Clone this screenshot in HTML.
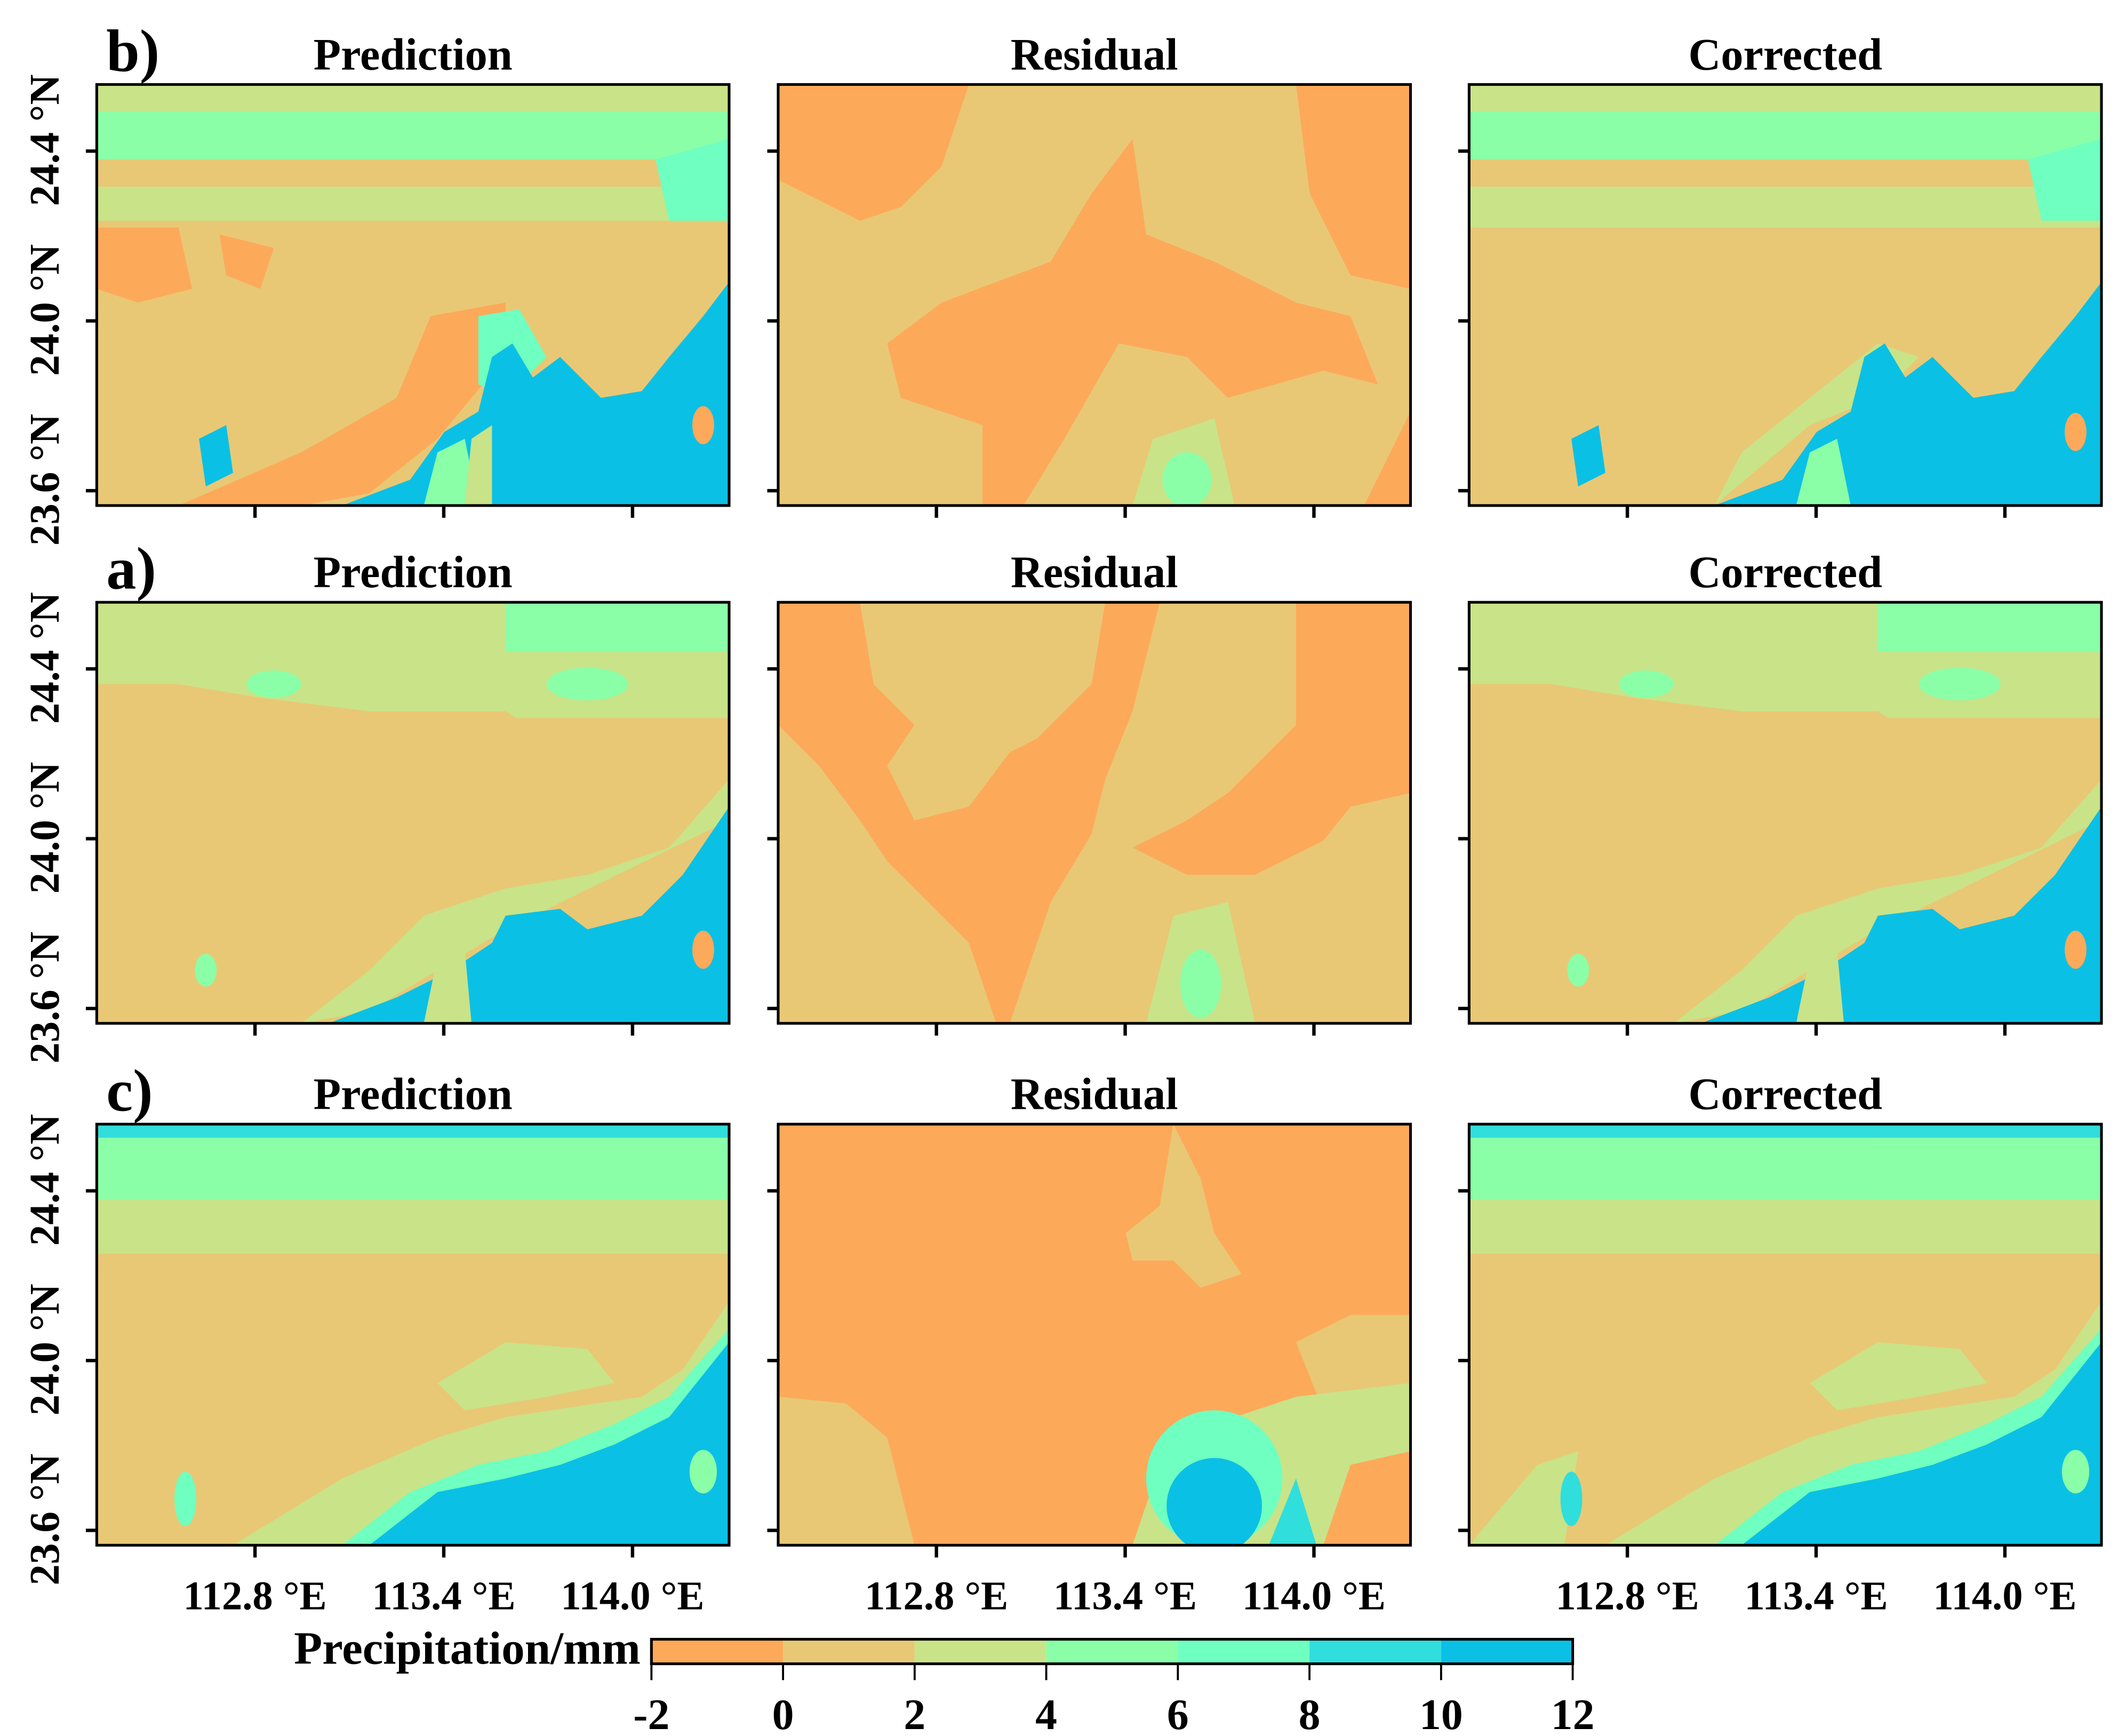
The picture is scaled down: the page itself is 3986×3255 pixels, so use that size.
<!DOCTYPE html>
<html><head><meta charset="utf-8"><style>
html,body{margin:0;padding:0;background:#fff;}
svg{display:block;}
text{font-family:"Liberation Serif",serif;font-weight:bold;fill:#000;}
</style></head><body>
<svg id="fig" width="3986" height="3255" viewBox="0 0 1560 1274" preserveAspectRatio="none" xmlns="http://www.w3.org/2000/svg">
<g id="content"></g>
</svg>
<script>
// colour scale data
const breaks = [-2, 0, 2, 4, 6, 8, 10, 12];
const palette = ["#FDA95A", "#E8C875", "#C9E388", "#8BFFA8", "#6FFFC0", "#30DEDC", "#0BC0E5"];
const rowLabels = ["b)", "a)", "c)"];
const colTitles = ["Prediction", "Residual", "Corrected"];
const latTicks = [24.4, 24.0, 23.6];
const lonTicks = [112.8, 113.4, 114.0];

const NS = "http://www.w3.org/2000/svg";
const root = document.getElementById("content");
const colX = [71, 571, 1078];
const rowY = [62, 442, 825];
const PW = 464, PH = 309;
// axis functions
const lonMin = 112.297, lonMax = 114.307;
const latMin = 23.565, latMax = 24.557;
function xs(lon){ return (lon - lonMin) / (lonMax - lonMin) * PW; }
function ys(lat){ return (latMax - lat) / (latMax - latMin) * PH; }
function cbx(v){ return 478 + (v - breaks[0]) / (breaks[breaks.length-1] - breaks[0]) * 676; }

function mk(tag, attrs, parent){
  const e = document.createElementNS(NS, tag);
  for (const k in attrs) e.setAttribute(k, attrs[k]);
  (parent || root).appendChild(e);
  return e;
}
const C = palette;
const shapes = {
 predB: [
  [1,"r",[0,0,464,309]],[2,"r",[0,0,464,20]],[3,"r",[0,20,464,35]],[1,"r",[0,55,464,20]],[2,"r",[0,75,464,25]],
  [4,"p","410,55 464,40 464,100 420,100"],
  [0,"p","0,105 60,105 70,150 30,160 0,150"],[0,"p","90,110 130,120 120,150 95,140"],
  [0,"p","60,309 150,270 220,230 245,170 300,160 300,200 250,260 200,300 150,309"],
  [4,"p","280,170 310,165 330,200 300,230 280,220"],
  [6,"p","180,309 230,290 255,255 280,240 290,200 305,190 320,215 340,200 370,230 400,225 420,200 445,170 464,145 464,309"],
  [3,"p","240,309 250,270 270,260 280,309"],[2,"p","270,309 275,260 290,250 290,309"],
  [6,"p","75,260 95,250 100,285 80,295"],[0,"e",[445,250,8,14]]
 ],
 resB: [
  [1,"r",[0,0,464,309]],
  [0,"p","0,0 140,0 120,60 90,90 60,100 0,70"],
  [0,"p","380,0 464,0 464,150 420,140 390,80"],
  [0,"p","80,190 120,160 200,130 230,80 260,40 270,110 320,130 380,160 420,170 440,220 400,210 330,230 300,200 250,190 210,260 180,309 150,309 150,250 90,230"],
  [2,"p","260,309 275,260 320,245 335,309"],[3,"e",[300,290,18,20]],
  [0,"p","430,309 464,240 464,309"]
 ],
 corB: [
  [1,"r",[0,0,464,309]],[2,"r",[0,0,464,20]],[3,"r",[0,20,464,35]],[1,"r",[0,55,464,20]],[2,"r",[0,75,464,30]],
  [4,"p","410,55 464,40 464,100 420,100"],
  [2,"p","180,309 250,250 300,230 330,200 300,190 250,230 200,270"],
  [6,"p","180,309 230,290 255,255 280,240 290,200 305,190 320,215 340,200 370,230 400,225 420,200 445,170 464,145 464,309"],
  [3,"p","240,309 250,270 270,260 280,309"],
  [6,"p","75,260 95,250 100,285 80,295"],[0,"e",[445,255,8,14]]
 ],
 predA: [
  [1,"r",[0,0,464,309]],[2,"r",[0,0,464,36]],[3,"r",[300,0,164,36]],
  [2,"p","0,36 464,36 464,100 330,100 300,80 200,80 120,70 60,60 0,60"],[1,"r",[0,85,464,15]],
  [3,"e",[130,60,20,10]],[3,"e",[360,60,30,12]],
  [2,"p","150,309 200,270 240,230 300,210 360,200 420,180 464,130 464,160 300,240 200,300"],
  [6,"p","170,309 220,290 260,270 290,250 300,230 340,225 360,240 400,230 430,200 464,150 464,309"],
  [2,"p","240,309 250,260 270,255 275,309"],[0,"e",[445,255,8,14]],[3,"e",[80,270,8,12]]
 ],
 resA: [
  [1,"r",[0,0,464,309]],
  [0,"p","0,0 60,0 70,60 100,90 80,120 100,160 140,150 170,110 190,100 230,60 240,0 280,0 260,80 240,130 230,170 200,220 170,309 160,309 140,250 80,190 60,160 30,120 0,90"],
  [0,"p","380,0 464,0 464,140 420,150 400,175 350,200 300,200 260,180 300,160 330,140 380,90"],
  [2,"p","270,309 290,230 330,220 350,309"],[3,"e",[310,280,15,25]]
 ],
 corA: [
  [1,"r",[0,0,464,309]],[2,"r",[0,0,464,36]],[3,"r",[300,0,164,36]],
  [2,"p","0,36 464,36 464,100 330,100 300,80 200,80 120,70 60,60 0,60"],[1,"r",[0,85,464,15]],
  [3,"e",[130,60,20,10]],[3,"e",[360,60,30,12]],
  [2,"p","150,309 200,270 240,230 300,210 360,200 420,180 464,130 464,160 300,240 200,300"],
  [6,"p","170,309 220,290 260,270 290,250 300,230 340,225 360,240 400,230 430,200 464,150 464,309"],
  [2,"p","240,309 250,260 270,255 275,309"],[0,"e",[445,255,8,14]],[3,"e",[80,270,8,12]]
 ],
 predC: [
  [1,"r",[0,0,464,309]],[5,"r",[0,0,464,10]],[3,"r",[0,10,464,45]],[2,"r",[0,55,464,40]],
  [2,"p","250,190 300,160 360,165 380,190 330,200 270,210"],
  [2,"p","100,309 180,260 250,230 300,215 400,200 430,180 464,130 464,309"],
  [4,"p","180,309 230,270 280,250 330,240 380,220 420,200 464,150 464,309"],
  [6,"p","200,309 250,270 300,260 340,250 380,235 420,215 464,160 464,309"],
  [4,"e",[65,275,8,20]],[3,"e",[445,255,10,16]]
 ],
 resC: [
  [0,"r",[0,0,464,309]],
  [1,"p","290,0 310,40 320,80 340,110 310,120 290,100 260,100 255,80 280,60"],
  [1,"p","380,160 420,140 464,140 464,200 420,200 400,210"],
  [1,"p","0,200 50,205 80,230 100,309 0,309"],
  [2,"p","260,309 280,250 320,220 380,200 464,190 464,240 420,250 400,309"],
  [4,"e",[320,260,50,50]],[6,"e",[320,280,35,35]],[5,"p","360,309 380,260 395,309"],
  [0,"p","410,309 464,309 464,245 420,255"]
 ],
 corC: [
  [1,"r",[0,0,464,309]],[5,"r",[0,0,464,10]],[3,"r",[0,10,464,45]],[2,"r",[0,55,464,40]],[3,"r",[300,10,164,45]],
  [2,"p","250,190 300,160 360,165 380,190 330,200 270,210"],
  [2,"p","0,309 50,250 80,240 70,309"],
  [2,"p","100,309 180,260 250,230 300,215 400,200 430,180 464,130 464,309"],
  [4,"p","180,309 230,270 280,250 330,240 380,220 420,200 464,150 464,309"],
  [6,"p","200,309 250,270 300,260 340,250 380,235 420,215 464,160 464,309"],
  [5,"e",[75,275,8,20]],[3,"e",[445,255,10,16]]
 ]
};
const panelKeys = [["predB","resB","corB"],["predA","resA","corA"],["predC","resC","corC"]];

for (let r = 0; r < 3; r++){
  const lbl = mk("text", {x: 78, y: rowY[r]-10, "font-size": 44});
  lbl.textContent = rowLabels[r];
  
  
  latTicks.forEach(lat => {
    const t = mk("text", {x: 0, y: 0, "font-size": 31, "text-anchor": "middle",
      transform: `translate(43,${rowY[r]+ys(lat)-8}) rotate(-90)`});
    t.textContent = lat.toFixed(1) + " \u00B0N";
    
    
  });
  for (let c = 0; c < 3; c++){
    const g = mk("g", {transform: `translate(${colX[c]},${rowY[r]})`});
    
    
    const title = mk("text", {x: colX[c]+PW/2, y: rowY[r]-11, "font-size": 33, "text-anchor": "middle"});
    title.textContent = colTitles[c];
    
    
    const cp = mk("clipPath", {id: `cp${r}${c}`}, g);
    mk("rect", {x:0,y:0,width:PW,height:PH}, cp);
    const inner = mk("g", {"clip-path": `url(#cp${r}${c})`}, g);
    shapes[panelKeys[r][c]].forEach(s => {
      let e;
      if (s[1] === "r") e = mk("rect", {x:s[2][0],y:s[2][1],width:s[2][2],height:s[2][3],fill:C[s[0]]}, inner);
      else if (s[1] === "p") e = mk("polygon", {points:s[2], fill:C[s[0]]}, inner);
      else e = mk("ellipse", {cx:s[2][0],cy:s[2][1],rx:s[2][2],ry:s[2][3],fill:C[s[0]]}, inner);
      
      
    });
    const fr = mk("rect", {x:0,y:0,width:PW,height:PH,fill:"none",stroke:"#000","stroke-width":2}, g);
    
    
    latTicks.forEach(lat => {
      const tk = mk("line", {x1:-8,x2:0,y1:ys(lat),y2:ys(lat),stroke:"#000","stroke-width":2.5}, g);
      
      
    });
    lonTicks.forEach(lon => {
      const tk = mk("line", {x1:xs(lon),x2:xs(lon),y1:PH,y2:PH+9,stroke:"#000","stroke-width":2.5}, g);
      
      
      if (r === 2){
        const tl = mk("text", {x:colX[c]+xs(lon), y:1181, "font-size":30, "text-anchor":"middle"});
        tl.textContent = lon.toFixed(1) + " \u00B0E";
        
        
      }
    });
  }
}
const cbt = mk("text", {x:470, y:1221, "font-size":34, "text-anchor":"end"});
cbt.textContent = "Precipitation/mm";


for (let i = 0; i < palette.length; i++){
  const b = mk("rect", {x:cbx(breaks[i]), y:1203, width:cbx(breaks[i+1])-cbx(breaks[i]), height:18, fill:palette[i]});
  
  
}
const cbf = mk("rect", {x:478,y:1203,width:676,height:18,fill:"none",stroke:"#000","stroke-width":2});


breaks.forEach(v => {
  const tk = mk("line", {x1:cbx(v),x2:cbx(v),y1:1221,y2:1233,stroke:"#000","stroke-width":1.5});
  
  
  const tl = mk("text", {x:cbx(v), y:1269, "font-size":32, "text-anchor":"middle"});
  tl.textContent = String(v);
  
  
});
</script>
</body></html>
